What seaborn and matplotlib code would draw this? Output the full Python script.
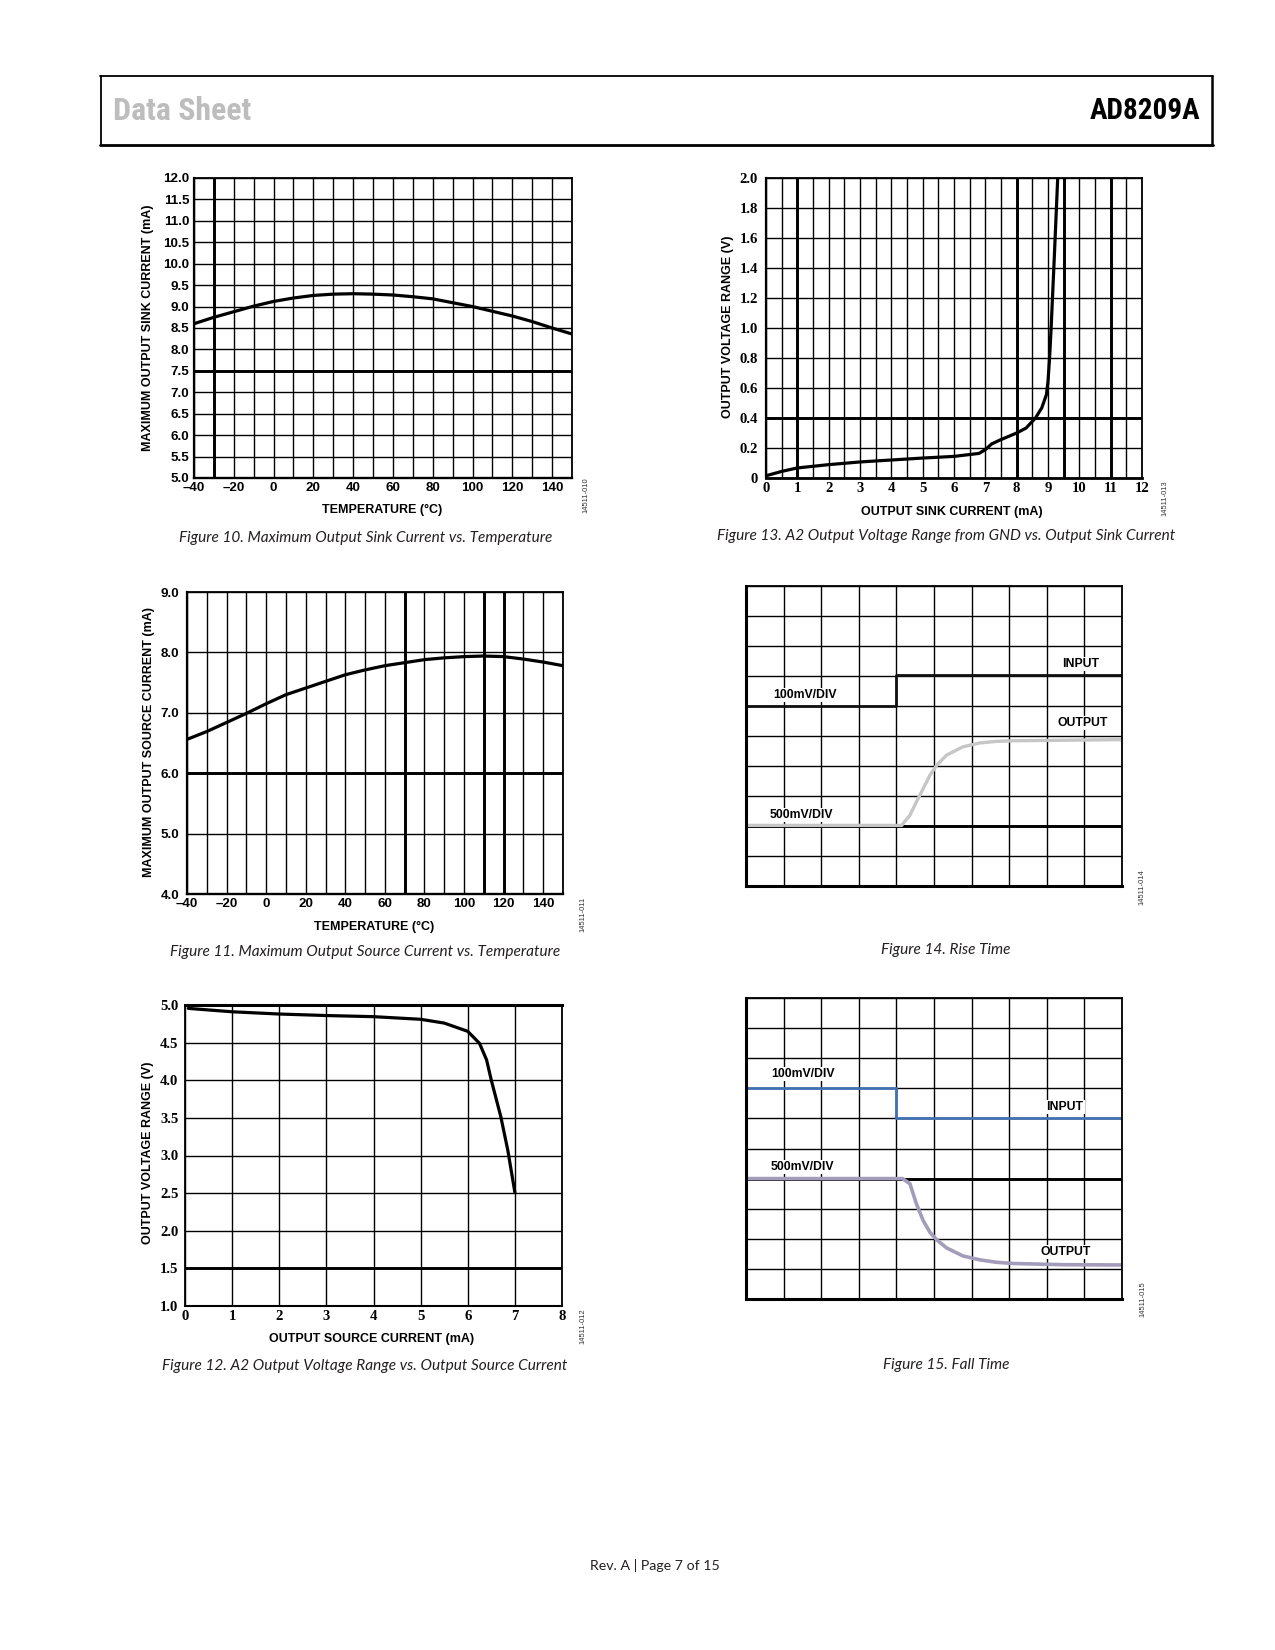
import numpy as np
import pandas as pd
import matplotlib
matplotlib.use("Agg")
import matplotlib.pyplot as plt
import matplotlib.font_manager as fm
import seaborn as sns
from matplotlib.lines import Line2D

sns.set_theme(style="white")
plt.rcParams['font.family'] = ['Liberation Sans', 'DejaVu Sans']
plt.rcParams['axes.unicode_minus'] = False

W, H, DPI = 1275, 1650, 100

# ---------------- data ----------------
# Figure 10: Maximum Output Sink Current vs. Temperature
fig10_temp = [-40, -30, -20, -10, 0, 10, 20, 30, 40, 50, 60, 70, 80, 90, 100, 110, 120, 130, 140, 150]
fig10_sink = [8.60, 8.75, 8.88, 9.01, 9.12, 9.20, 9.26, 9.29, 9.30, 9.29, 9.27, 9.23, 9.18, 9.09,
              9.00, 8.89, 8.78, 8.65, 8.50, 8.36]
fig10_xticks = [-40, -20, 0, 20, 40, 60, 80, 100, 120, 140]
fig10_xlabels = ["–40", "–20", "0", "20", "40", "60", "80", "100", "120", "140"]
fig10_yticks = [5.0, 5.5, 6.0, 6.5, 7.0, 7.5, 8.0, 8.5, 9.0, 9.5, 10.0, 10.5, 11.0, 11.5, 12.0]
fig10_ylabels = ["5.0", "5.5", "6.0", "6.5", "7.0", "7.5", "8.0", "8.5", "9.0", "9.5",
                 "10.0", "10.5", "11.0", "11.5", "12.0"]

# Figure 11: Maximum Output Source Current vs. Temperature
fig11_temp = [-40, -30, -20, -10, 0, 10, 20, 30, 40, 50, 60, 70, 80, 90, 100, 110, 120, 130, 140, 150]
fig11_source = [6.56, 6.69, 6.84, 6.99, 7.15, 7.30, 7.41, 7.52, 7.63, 7.71, 7.78, 7.83, 7.88, 7.91,
                7.93, 7.94, 7.93, 7.89, 7.84, 7.78]
fig11_xticks = fig10_xticks
fig11_xlabels = fig10_xlabels
fig11_yticks = [4.0, 5.0, 6.0, 7.0, 8.0, 9.0]
fig11_ylabels = ["4.0", "5.0", "6.0", "7.0", "8.0", "9.0"]

# Figure 12: A2 Output Voltage Range vs. Output Source Current
fig12_current = [0.07, 1.0, 2.0, 3.0, 4.0, 5.0, 5.5, 6.0, 6.25, 6.4, 6.5, 6.7, 6.85, 7.0]
fig12_voltage = [4.955, 4.91, 4.88, 4.86, 4.845, 4.81, 4.76, 4.65, 4.49, 4.27, 4.0, 3.52, 3.07, 2.51]
fig12_xticks = [0, 1, 2, 3, 4, 5, 6, 7, 8]
fig12_xlabels = ["0", "1", "2", "3", "4", "5", "6", "7", "8"]
fig12_yticks = [1.0, 1.5, 2.0, 2.5, 3.0, 3.5, 4.0, 4.5, 5.0]
fig12_ylabels = ["1.0", "1.5", "2.0", "2.5", "3.0", "3.5", "4.0", "4.5", "5.0"]

# Figure 13: A2 Output Voltage Range from GND vs. Output Sink Current
fig13_current = [0.02, 0.5, 1.0, 2.0, 3.0, 4.0, 5.0, 6.0, 6.8, 7.0, 7.2, 7.5, 8.0, 8.3, 8.6,
                 8.8, 8.95, 9.0, 9.05, 9.1, 9.2, 9.31]
fig13_voltage = [0.016, 0.044, 0.067, 0.089, 0.107, 0.12, 0.133, 0.144, 0.164, 0.189, 0.227,
                 0.256, 0.30, 0.333, 0.40, 0.467, 0.556, 0.644, 0.80, 1.0, 1.467, 2.0]
fig13_xticks = [0, 1, 2, 3, 4, 5, 6, 7, 8, 9, 10, 11, 12]
fig13_xlabels = ["0", "1", "2", "3", "4", "5", "6", "7", "8", "9", "10", "11", "12"]
fig13_yticks = [0, 0.2, 0.4, 0.6, 0.8, 1.0, 1.2, 1.4, 1.6, 1.8, 2.0]
fig13_ylabels = ["0", "0.2", "0.4", "0.6", "0.8", "1.0", "1.2", "1.4", "1.6", "1.8", "2.0"]

# Figure 14: Rise Time (scope divisions)
fig14_in_t = [0.0, 3.98, 3.98, 10.0]
fig14_in_v = [6.0, 6.0, 7.02, 7.02]
fig14_out_t = [0.0, 4.14, 4.36, 4.53, 4.71, 4.89, 5.07, 5.33, 5.77, 6.22, 6.66, 7.10, 10.0]
fig14_out_v = [2.02, 2.02, 2.36, 2.80, 3.24, 3.69, 4.02, 4.36, 4.64, 4.77, 4.82, 4.84, 4.88]

# Figure 15: Fall Time (scope divisions)
fig15_in_t = [0.0, 3.98, 3.98, 10.0]
fig15_in_v = [7.0, 7.0, 6.0, 6.0]
fig15_out_t = [0.0, 4.16, 4.36, 4.53, 4.71, 4.89, 5.07, 5.33, 5.77, 6.22, 6.66, 7.10, 8.43, 10.0]
fig15_out_v = [4.0, 4.0, 3.83, 3.17, 2.61, 2.22, 1.97, 1.70, 1.43, 1.30, 1.22, 1.18, 1.14, 1.13]

scope_div = [0, 1, 2, 3, 4, 5, 6, 7, 8, 9, 10]

# ---------------- figure ----------------
fig = plt.figure(figsize=(W / DPI, H / DPI), dpi=DPI)
fig.patch.set_facecolor("white")
renderer = fig.canvas.get_renderer()


def add_ax(x0, y0, x1, y1):
    ax = fig.add_axes([x0 / W, 1 - y1 / H, (x1 - x0) / W, (y1 - y0) / H])
    ax.set_facecolor("white")
    return ax


def ftext(x, y, s, **kw):
    return fig.text(x / W, 1 - y / H, s, **kw)


def fit_text(x, y, s, target_w, fs0=10, max_fs=None, **kw):
    t = ftext(x, y, s, fontsize=fs0, **kw)
    w = t.get_window_extent(renderer).width
    fs = fs0 * target_w / w
    if max_fs is not None:
        fs = min(fs, max_fs)
    t.set_fontsize(fs)
    return t


THIN = 1.0
THICK = 2.1
CURVE = 2.3


def style(ax, xlim, ylim, xgrid, ygrid, xticks, xlabels, yticks, ylabels,
          xpad, ypad, tick_family, tick_fs, thick_x=(), thick_y=(), spines=None):
    ax.set_xlim(*xlim)
    ax.set_ylim(*ylim)
    for v in xgrid:
        ax.axvline(v, color="black", lw=THIN, zorder=1)
    for v in ygrid:
        ax.axhline(v, color="black", lw=THIN, zorder=1)
    for v in thick_x:
        ax.axvline(v, color="black", lw=THICK, zorder=1.5)
    for v in thick_y:
        ax.axhline(v, color="black", lw=THICK, zorder=1.5)
    ax.set_xticks(xticks)
    ax.set_yticks(yticks)
    if xlabels is not None:
        ax.set_xticklabels(xlabels, fontweight="bold", fontsize=tick_fs, family=tick_family)
        ax.set_yticklabels(ylabels, fontweight="bold", fontsize=tick_fs, family=tick_family)
    else:
        ax.set_xticklabels([])
        ax.set_yticklabels([])
    ax.tick_params(which="both", length=0, colors="black")
    ax.tick_params(axis="x", pad=xpad)
    ax.tick_params(axis="y", pad=ypad)
    sp = spines or {}
    for side in ["left", "right", "top", "bottom"]:
        ax.spines[side].set_visible(True)
        ax.spines[side].set_color("black")
        ax.spines[side].set_linewidth(sp.get(side, 1.3))
        ax.spines[side].set_zorder(4)


def set_labels(ax, box, xl, xl_pos, yl, yl_pos, fs=9.0):
    x0, y0, x1, y1 = box
    if xl:
        ax.set_xlabel(xl, fontsize=fs, fontweight="bold", color="black")
        ax.xaxis.set_label_coords((xl_pos[0] - x0) / (x1 - x0), (y1 - xl_pos[1]) / (y1 - y0))
        ax.xaxis.label.set_va("center")
    if yl:
        ax.set_ylabel(yl, fontsize=fs, fontweight="bold", color="black")
        ax.yaxis.set_label_coords((yl_pos[0] - x0) / (x1 - x0), (y1 - yl_pos[1]) / (y1 - y0))
        ax.yaxis.label.set_va("center")
        ax.yaxis.label.set_ha("center")


def curve(ax, xs, ys, color="black", lw=CURVE, z=3):
    df = pd.DataFrame({"x": xs, "y": ys})
    sns.lineplot(data=df, x="x", y="y", ax=ax, color=color, lw=lw, sort=False,
                 estimator=None, legend=False, zorder=z, solid_capstyle="round",
                 solid_joinstyle="round")
    ax.set_xlabel("")
    ax.set_ylabel("")


SANS = ["Liberation Sans", "DejaVu Sans"]
SERIF = ["Liberation Serif", "DejaVu Serif"]
SANS_FS = 9.6
SERIF_FS = 10.6

# ---- Figure 10 ----
b10 = (194, 178, 572, 478)
ax10 = add_ax(*b10)
curve(ax10, fig10_temp, fig10_sink)
style(ax10, (-40, 150), (5.0, 12.0), list(range(-40, 151, 10)), fig10_yticks,
      fig10_xticks, fig10_xlabels, fig10_yticks, fig10_ylabels, 3.2, 3.4, SANS, SANS_FS,
      thick_x=[-30], thick_y=[7.5], spines={"left": 1.6, "bottom": 1.7})
set_labels(ax10, b10, "TEMPERATURE (°C)", (382, 510),
           "MAXIMUM OUTPUT SINK CURRENT (mA)", (148, 328))

# ---- Figure 13 ----
b13 = (766, 178, 1142, 478)
ax13 = add_ax(*b13)
curve(ax13, fig13_current, fig13_voltage)
style(ax13, (0, 12), (0, 2.0), list(np.arange(0, 12.01, 0.5)), fig13_yticks,
      fig13_xticks, fig13_xlabels, fig13_yticks, fig13_ylabels, 3.0, 5.6, SERIF, SERIF_FS,
      thick_x=[1, 8, 9.5, 11], thick_y=[0.4], spines={"left": 1.6, "bottom": 2.0})
set_labels(ax13, b13, "OUTPUT SINK CURRENT (mA)", (952, 512),
           "OUTPUT VOLTAGE RANGE (V)", (728, 327))

# ---- Figure 11 ----
b11 = (187, 592, 563, 894)
ax11 = add_ax(*b11)
curve(ax11, fig11_temp, fig11_source)
style(ax11, (-40, 150), (4.0, 9.0), list(range(-40, 151, 10)), fig11_yticks,
      fig11_xticks, fig11_xlabels, fig11_yticks, fig11_ylabels, 3.0, 5.6, SANS, SANS_FS,
      thick_x=[70, 110, 120], thick_y=[6.0], spines={"left": 1.6, "bottom": 1.7})
set_labels(ax11, b11, "TEMPERATURE (°C)", (374, 927),
           "MAXIMUM OUTPUT SOURCE CURRENT (mA)", (149, 742))

# ---- Figure 12 ----
b12 = (185, 1005, 562, 1306)
ax12 = add_ax(*b12)
curve(ax12, fig12_current, fig12_voltage)
style(ax12, (0, 8), (1.0, 5.0), fig12_xticks, fig12_yticks,
      fig12_xticks, fig12_xlabels, fig12_yticks, fig12_ylabels, 2.8, 4.8, SERIF, SERIF_FS,
      thick_y=[1.5], spines={"top": 2.2, "left": 1.3, "bottom": 1.5})
set_labels(ax12, b12, "OUTPUT SOURCE CURRENT (mA)", (372, 1339),
           "OUTPUT VOLTAGE RANGE (V)", (148, 1153))

# ---- Figure 14 ----
LBOX = dict(boxstyle="square,pad=0.1", facecolor="white", edgecolor="none")
b14 = (746, 586, 1122, 886)
ax14 = add_ax(*b14)
style(ax14, (0, 10), (0, 10), scope_div, scope_div, [], None, [], None, 0, 0, SANS, 9,
      thick_y=[2], spines={"left": 2.2, "bottom": 2.2})
curve(ax14, fig14_in_t, fig14_in_v, color="#111111", lw=2.0, z=3)
curve(ax14, fig14_out_t, fig14_out_v, color="#c6c6c6", lw=2.4, z=3)
set_labels(ax14, b14, "TIME (2µs/DIV)", (935, 899), None, None)
for s, (tx, ty) in [("INPUT", (8.9, 7.4)), ("100mV/DIV", (1.57, 6.37)),
                    ("OUTPUT", (8.96, 5.43)), ("500mV/DIV", (1.47, 2.37))]:
    ax14.text(tx, ty, s, ha="center", va="center", fontsize=8.8, fontweight="bold",
              color="black", zorder=5, bbox=LBOX)

# ---- Figure 15 ----
b15 = (746, 998, 1122, 1299)
ax15 = add_ax(*b15)
style(ax15, (0, 10), (0, 10), scope_div, scope_div, [], None, [], None, 0, 0, SANS, 9,
      thick_y=[4], spines={"left": 2.2, "bottom": 2.2})
curve(ax15, fig15_in_t, fig15_in_v, color="#4172b0", lw=2.0, z=3)
curve(ax15, fig15_out_t, fig15_out_v, color="#a39cba", lw=2.6, z=3)
set_labels(ax15, b15, "TIME (2µs/DIV)", (935, 1312), None, None)
for s, (tx, ty) in [("100mV/DIV", (1.52, 7.47)), ("INPUT", (8.48, 6.38)),
                    ("500mV/DIV", (1.49, 4.39)), ("OUTPUT", (8.51, 1.56))]:
    ax15.text(tx, ty, s, ha="center", va="center", fontsize=8.8, fontweight="bold",
              color="black", zorder=5, bbox=LBOX)

# ---- figure IDs ----
for s, (x, y) in [("14511-010", (586, 495)), ("14511-013", (1165, 498)),
                  ("14511-011", (583, 914)), ("14511-012", (583, 1326)),
                  ("14511-014", (1142, 887)), ("14511-015", (1143, 1299))]:
    ftext(x, y, s, rotation=90, fontsize=5.4, color="#333333", ha="center", va="center",
          family=SANS)

# ---- captions ----
CAP_FAMILY = ["Lato", "Open Sans", "DejaVu Sans"]
cap13 = fit_text(946, 536, "Figure 13. A2 Output Voltage Range from GND vs. Output Sink Current",
                 460, style="italic", family=CAP_FAMILY, ha="center", va="center", color="#231f20")
cap_fs = cap13.get_fontsize()
for s, (x, y) in [("Figure 10. Maximum Output Sink Current vs. Temperature", (366, 538)),
                  ("Figure 11. Maximum Output Source Current vs. Temperature", (365, 952)),
                  ("Figure 12. A2 Output Voltage Range vs. Output Source Current", (365, 1366)),
                  ("Figure 14. Rise Time", (946, 950)),
                  ("Figure 15. Fall Time", (946, 1365))]:
    ftext(x, y, s, fontsize=cap_fs, style="italic", family=CAP_FAMILY, ha="center",
          va="center", color="#231f20")


# ---- header ----
def find_condensed_bold():
    prefs = ["LiberationSansNarrow-Bold.", "NotoSans-CondensedBold.", "RobotoCondensed-Bold.",
             "Roboto_Condensed-Bold", "DejaVuSansCondensed-Bold.", "OpenSans_Condensed-Bold",
             "OpenSansCondensed-Bold", "OpenSans-CondBold", "NotoSans-SemiCondensedBold.",
             "NotoSans-ExtraCondensedBold."]
    files = [f.fname for f in fm.fontManager.ttflist]
    for p in prefs:
        for fn in files:
            if p.lower() in fn.lower():
                return fm.FontProperties(fname=fn)
    for f in fm.fontManager.ttflist:
        low = f.fname.lower()
        if ("condensed" in low or "narrow" in low) and "bold" in low and "italic" not in low \
                and "oblique" not in low and "extra" not in low and "semi" not in low:
            return fm.FontProperties(fname=f.fname)
    return fm.FontProperties(family=["DejaVu Sans"], weight="bold", stretch="condensed")


HEAD_FP = find_condensed_bold()
fit_text(113, 111, "Data Sheet", 138, fs0=20, max_fs=25, fontproperties=HEAD_FP,
         color="#bdbdbd", ha="left", va="center")
fit_text(1200, 111, "AD8209A", 111, fs0=20, max_fs=25, fontproperties=HEAD_FP,
         color="black", ha="right", va="center")
for (xa, ya, xb, yb, lw) in [(100, 76, 1213, 76, 1.3), (100, 145, 1213, 145, 2.0),
                             (101, 76, 101, 145, 1.3), (1212, 76, 1212, 145, 1.8)]:
    fig.add_artist(Line2D([xa / W, xb / W], [1 - ya / H, 1 - yb / H], color="black",
                          lw=lw, transform=fig.transFigure))

# ---- footer ----
fit_text(655, 1566, "Rev. A | Page 7 of 15", 129, family=["Lato", "Open Sans", "DejaVu Sans"],
         ha="center", va="center", color="#231f20")

fig.savefig("out.png", dpi=DPI, facecolor="white")
